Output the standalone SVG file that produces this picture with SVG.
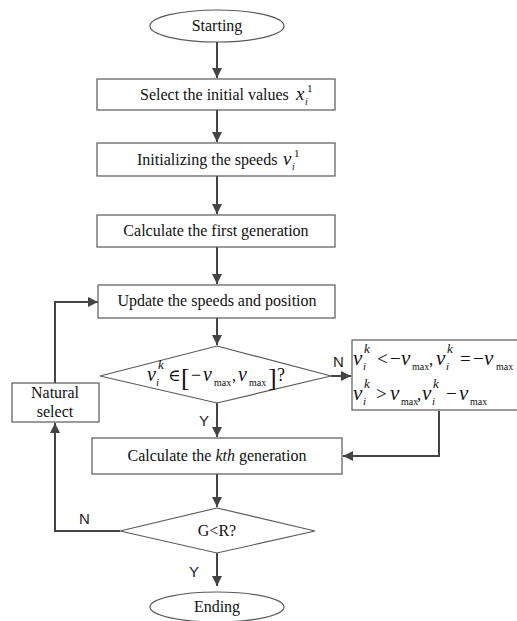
<svg xmlns="http://www.w3.org/2000/svg" width="517" height="621" viewBox="0 0 517 621">
<style>
.box{fill:#fff;stroke:#595959;stroke-width:1.2}
.t{font-family:"Liberation Serif","DejaVu Serif",serif;font-size:16px;fill:#111;text-anchor:middle}
.m{font-family:"Liberation Serif","DejaVu Serif",serif;fill:#111}
.mi{font-style:italic}
.lbl{font-family:"Liberation Sans",Arial,sans-serif;font-size:15px;fill:#222}
.c{fill:none;stroke:#444;stroke-width:2}
</style>
<defs>
<marker id="ah" viewBox="0 0 10 10" refX="10" refY="5" markerWidth="5" markerHeight="5" orient="auto" markerUnits="strokeWidth">
<path d="M0,0 L10,5 L0,10 z" fill="#444"/>
</marker>
</defs>
<rect width="517" height="621" fill="#fff"/>
<g id="connectors">
<line class="c" x1="217" y1="42" x2="217" y2="78" marker-end="url(#ah)"/>
<line class="c" x1="217" y1="110" x2="217" y2="142" marker-end="url(#ah)"/>
<line class="c" x1="217" y1="176" x2="217" y2="214" marker-end="url(#ah)"/>
<line class="c" x1="217" y1="247" x2="217" y2="284" marker-end="url(#ah)"/>
<line class="c" x1="217" y1="318" x2="217" y2="345" marker-end="url(#ah)"/>
<line class="c" x1="331" y1="376" x2="351" y2="376" marker-end="url(#ah)"/>
<line class="c" x1="217" y1="403" x2="217" y2="437" marker-end="url(#ah)"/>
<polyline class="c" points="439,411 439,456 343,456" marker-end="url(#ah)"/>
<line class="c" x1="217" y1="474" x2="217" y2="507" marker-end="url(#ah)"/>
<polyline class="c" points="120,531 55,531 55,423" marker-end="url(#ah)"/>
<polyline class="c" points="55,383 55,302 98,302" marker-end="url(#ah)"/>
<line class="c" x1="217" y1="553" x2="217" y2="586" marker-end="url(#ah)"/>
<text class="lbl" x="333" y="367">N</text>
<text class="lbl" x="199" y="426">Y</text>
<text class="lbl" x="79" y="524">N</text>
<text class="lbl" x="189" y="577">Y</text>
</g>
<g id="start">
<ellipse class="box" cx="217" cy="26" rx="67" ry="16"/>
<text class="t" x="217" y="31">Starting</text>
</g>
<g id="select-initial">
<rect class="box" x="97" y="79" width="238" height="31"/>
<text class="m" font-size="16"><tspan x="140" y="100">Select the initial values</tspan><tspan class="mi" font-size="19" x="296" y="100">x</tspan><tspan class="mi" font-size="10" x="305" y="105">i</tspan><tspan font-size="11" x="307" y="92">1</tspan></text>
</g>
<g id="init-speeds">
<rect class="box" x="97" y="143" width="238" height="33"/>
<text class="m" font-size="16"><tspan x="137" y="165">Initializing the speeds</tspan><tspan class="mi" font-size="19" x="283" y="165">v</tspan><tspan class="mi" font-size="10" x="292" y="170">i</tspan><tspan font-size="11" x="294" y="157">1</tspan></text>
</g>
<g id="first-gen">
<rect class="box" x="97" y="215" width="238" height="32"/>
<text class="t" x="216" y="236">Calculate  the first generation</text>
</g>
<g id="update">
<rect class="box" x="98" y="285" width="237" height="33"/>
<text class="t" x="217" y="306">Update the speeds and position</text>
</g>
<g id="check-speed">
<polygon class="box" points="217,346 331,376 217,403 100,376"/>
<text class="m">
<tspan class="mi" font-size="20" x="147" y="381">v</tspan>
<tspan class="mi" font-size="11" x="156" y="386">i</tspan>
<tspan class="mi" font-size="13" x="158" y="369">k</tspan>
<tspan font-size="17" x="168" y="381">∈</tspan>
<tspan font-size="26" x="181" y="386">[</tspan>
<tspan font-size="18" x="191" y="381">−</tspan>
<tspan class="mi" font-size="20" x="203" y="381">v</tspan>
<tspan font-size="10" x="214" y="386">max</tspan>
<tspan font-size="16" x="232" y="381">,</tspan>
<tspan class="mi" font-size="20" x="238" y="381">v</tspan>
<tspan font-size="10" x="249" y="386">max</tspan>
<tspan font-size="26" x="268" y="386">]</tspan>
<tspan font-size="18" x="277" y="381">?</tspan>
</text>
</g>
<g id="clamp">
<rect class="box" x="352" y="340" width="170" height="70"/>
<text class="m">
<tspan class="mi" font-size="21" x="353" y="365">v</tspan>
<tspan class="mi" font-size="11" x="363" y="370">i</tspan>
<tspan class="mi" font-size="13" x="364" y="353">k</tspan>
<tspan font-size="19" x="377" y="365">&lt;</tspan>
<tspan font-size="19" x="390" y="365">−</tspan>
<tspan class="mi" font-size="21" x="401" y="365">v</tspan>
<tspan font-size="10" x="412" y="370">max</tspan>
<tspan font-size="17" x="429" y="365">,</tspan>
<tspan class="mi" font-size="21" x="436" y="365">v</tspan>
<tspan class="mi" font-size="11" x="446" y="370">i</tspan>
<tspan class="mi" font-size="13" x="447" y="353">k</tspan>
<tspan font-size="19" x="460" y="365">=</tspan>
<tspan font-size="19" x="473" y="365">−</tspan>
<tspan class="mi" font-size="21" x="484" y="365">v</tspan>
<tspan font-size="10" x="496" y="370">max</tspan>
</text>
<text class="m">
<tspan class="mi" font-size="21" x="353" y="400">v</tspan>
<tspan class="mi" font-size="11" x="363" y="405">i</tspan>
<tspan class="mi" font-size="13" x="364" y="388">k</tspan>
<tspan font-size="19" x="376" y="400">&gt;</tspan>
<tspan class="mi" font-size="21" x="390" y="400">v</tspan>
<tspan font-size="10" x="401" y="405">max</tspan>
<tspan font-size="17" x="417" y="400">,</tspan>
<tspan class="mi" font-size="21" x="422" y="400">v</tspan>
<tspan class="mi" font-size="11" x="432" y="405">i</tspan>
<tspan class="mi" font-size="13" x="433" y="388">k</tspan>
<tspan font-size="19" x="446" y="400">−</tspan>
<tspan class="mi" font-size="21" x="459" y="400">v</tspan>
<tspan font-size="10" x="470" y="405">max</tspan>
</text>
</g>
<g id="natural-select">
<rect class="box" x="12" y="383" width="87" height="39"/>
<text class="t" x="55" y="398">Natural</text>
<text class="t" x="55" y="417">select</text>
</g>
<g id="kth-gen">
<rect class="box" x="92" y="438" width="250" height="36"/>
<text class="t" x="217" y="461">Calculate the <tspan font-style="italic">kth</tspan> generation</text>
</g>
<g id="check-gr">
<polygon class="box" points="217,508 315,531 217,553 120,531"/>
<text class="t" x="217" y="536">G&lt;R?</text>
</g>
<g id="end">
<ellipse class="box" cx="217" cy="607" rx="67" ry="15"/>
<text class="t" x="217" y="612">Ending</text>
</g>
</svg>
